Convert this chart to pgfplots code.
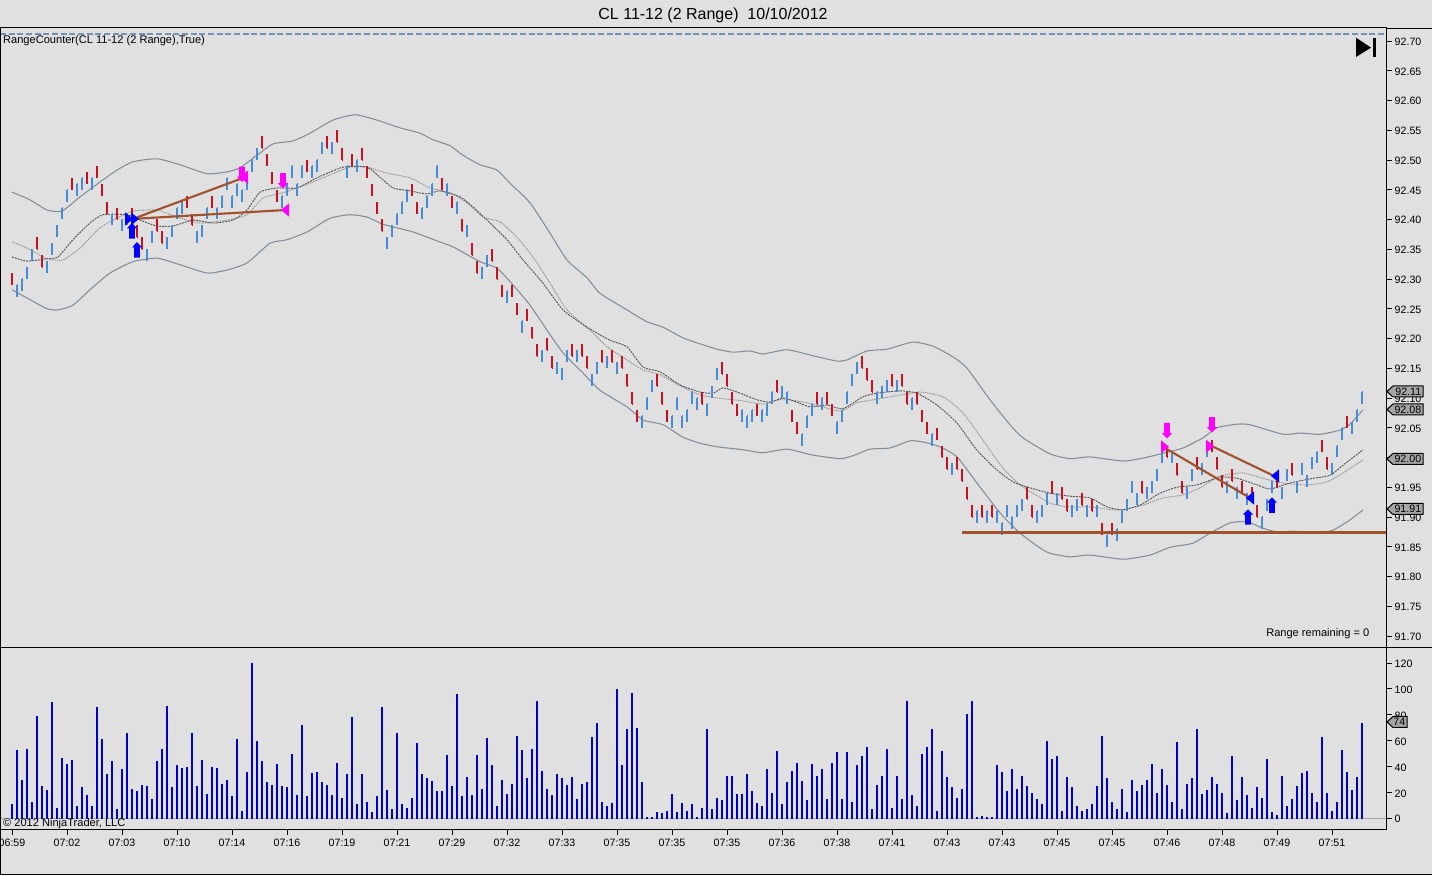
\documentclass[border=0pt]{standalone}
\usepackage{fontspec}
\setmainfont{Liberation Sans}
\usepackage{pgfplots}
\pgfplotsset{compat=1.18}
\definecolor{bg}{RGB}{224,224,224}
\definecolor{barred}{RGB}{200,16,32}
\definecolor{barblue}{RGB}{70,140,215}
\definecolor{volblue}{RGB}{0,0,205}
\definecolor{band}{RGB}{130,142,154}
\definecolor{madark}{RGB}{85,85,85}
\definecolor{malight}{RGB}{150,150,150}
\definecolor{sienna}{RGB}{160,82,45}
\definecolor{topline}{RGB}{110,145,190}
\definecolor{flagfill}{RGB}{165,165,165}
\definecolor{puremag}{RGB}{255,0,255}
\definecolor{pureblue}{RGB}{0,0,255}
\pgfdeclareplotmark{arrup}{\pgfpathmoveto{\pgfqpoint{-2.1pt}{-5.8pt}}\pgfpathlineto{\pgfqpoint{2.1pt}{-5.8pt}}\pgfpathlineto{\pgfqpoint{2.1pt}{1.8pt}}\pgfpathlineto{\pgfqpoint{3.8pt}{1.8pt}}\pgfpathlineto{\pgfqpoint{0pt}{5.8pt}}\pgfpathlineto{\pgfqpoint{-3.8pt}{1.8pt}}\pgfpathlineto{\pgfqpoint{-2.1pt}{1.8pt}}\pgfpathclose\pgfusepathqfill}
\pgfdeclareplotmark{arrdown}{\pgfpathmoveto{\pgfqpoint{-2.1pt}{5.8pt}}\pgfpathlineto{\pgfqpoint{2.1pt}{5.8pt}}\pgfpathlineto{\pgfqpoint{2.1pt}{-1.8pt}}\pgfpathlineto{\pgfqpoint{3.8pt}{-1.8pt}}\pgfpathlineto{\pgfqpoint{0pt}{-5.8pt}}\pgfpathlineto{\pgfqpoint{-3.8pt}{-1.8pt}}\pgfpathlineto{\pgfqpoint{-2.1pt}{-1.8pt}}\pgfpathclose\pgfusepathqfill}
\pgfdeclareplotmark{triR}{\pgfpathmoveto{\pgfqpoint{-3pt}{-5pt}}\pgfpathlineto{\pgfqpoint{3pt}{0pt}}\pgfpathlineto{\pgfqpoint{-3pt}{5pt}}\pgfpathclose\pgfusepathqfill}
\pgfdeclareplotmark{triL}{\pgfpathmoveto{\pgfqpoint{3pt}{-5pt}}\pgfpathlineto{\pgfqpoint{-3pt}{0pt}}\pgfpathlineto{\pgfqpoint{3pt}{5pt}}\pgfpathclose\pgfusepathqfill}
\newcommand{\flagtag}[3]{\path[fill=flagfill,draw=black,line width=0.75pt] (1387*0.75pt,{(875-#1)*0.75pt}) -- (1393*0.75pt,{(875-#1+5.5)*0.75pt}) -- (#2*0.75pt,{(875-#1+5.5)*0.75pt}) -- (#2*0.75pt,{(875-#1-5.5)*0.75pt}) -- (1393*0.75pt,{(875-#1-5.5)*0.75pt}) -- cycle;
\node[font=\fontsize{8pt}{9pt}\selectfont,inner sep=0pt,anchor=east] at ({(#2-1.5)*0.75pt},{(875-#1)*0.75pt}) {#3};}
\begin{document}
\begin{tikzpicture}[x=1pt,y=1pt]
\path[use as bounding box,fill=bg] (0,0) rectangle (1074pt,656.25pt);
\begin{axis}[
  at={(0pt,171pt)},anchor=south west,scale only axis,
  width=1039.5pt,height=465pt,
  xmin=0,xmax=1386,ymin=91.6815,ymax=92.7235,
  xtick=\empty,
  ytick={91.70,91.75,91.80,91.85,91.90,91.95,92.00,92.05,92.10,92.15,92.20,92.25,92.30,92.35,92.40,92.45,92.50,92.55,92.60,92.65,92.70},
  yticklabel pos=right,tick align=outside,major tick length=4.5pt,
  y tick style={black,line width=0.6pt},
  ytick pos=right,
  y tick label style={font=\fontsize{8pt}{9pt}\selectfont,/pgf/number format/fixed,/pgf/number format/fixed zerofill,/pgf/number format/precision=2,/pgf/number format/assume math mode=true,xshift=-1.5pt,yshift=-0.6pt},
  scaled y ticks=false,
  axis line style={black,line width=0.7pt},
  clip=false,
  axis background/.style={fill=bg},
]
% top dashed line
\addplot[topline,line width=1.3pt,dash pattern=on 4.5pt off 2pt] coordinates {(0,92.712)(1386,92.712)};
% bands
\addplot[band,line width=0.8pt,smooth,tension=0.35] coordinates {(12,92.446)(30,92.433)(47,92.416)(62,92.414)(80,92.438)(100,92.463)(117,92.483)(133,92.497)(157,92.502)(180,92.492)(207,92.477)(227,92.480)(240,92.487)(257,92.508)(273,92.527)(293,92.532)(310,92.545)(333,92.567)(355,92.576)(377,92.567)(400,92.554)(420,92.545)(433,92.534)(450,92.524)(463,92.508)(480,92.492)(497,92.483)(510,92.461)(530,92.428)(550,92.377)(567,92.332)(587,92.302)(600,92.276)(627,92.248)(647,92.228)(663,92.219)(683,92.201)(700,92.191)(717,92.182)(733,92.177)(750,92.179)(763,92.174)(787,92.181)(813,92.171)(837,92.162)(847,92.164)(867,92.179)(887,92.182)(913,92.194)(933,92.187)(953,92.169)(967,92.150)(990,92.097)(1010,92.055)(1023,92.033)(1050,92.006)(1070,91.998)(1090,92.001)(1123,91.994)(1143,91.999)(1163,92.007)(1183,92.016)(1203,92.033)(1217,92.050)(1237,92.056)(1250,92.055)(1283,92.039)(1300,92.041)(1320,92.039)(1340,92.046)(1350,92.056)(1363,92.080)};
\addplot[band,line width=0.8pt,smooth,tension=0.35] coordinates {(12,92.282)(27,92.268)(47,92.250)(58,92.248)(73,92.256)(90,92.282)(110,92.310)(133,92.329)(157,92.335)(180,92.324)(207,92.310)(227,92.315)(247,92.327)(270,92.360)(287,92.366)(307,92.379)(330,92.402)(350,92.408)(367,92.404)(383,92.392)(413,92.379)(437,92.364)(453,92.354)(480,92.329)(497,92.318)(513,92.290)(530,92.256)(547,92.214)(563,92.176)(583,92.142)(600,92.113)(627,92.085)(643,92.063)(663,92.055)(683,92.034)(700,92.024)(717,92.018)(743,92.013)(763,92.008)(787,92.014)(813,92.004)(840,91.998)(853,92.003)(870,92.014)(890,92.016)(910,92.028)(923,92.026)(940,92.018)(957,92.001)(977,91.957)(1000,91.907)(1020,91.873)(1040,91.848)(1050,91.839)(1070,91.833)(1090,91.836)(1123,91.829)(1150,91.836)(1170,91.849)(1193,91.856)(1210,91.873)(1230,91.890)(1247,91.892)(1263,91.881)(1277,91.875)(1293,91.876)(1317,91.873)(1333,91.878)(1350,91.895)(1363,91.912)};
% light MA
\addplot[malight,line width=0.7pt,dash pattern=on 1pt off 0.6pt,smooth,tension=0.35] coordinates {(12,92.362)(27,92.352)(47,92.334)(63,92.332)(80,92.352)(100,92.386)(117,92.402)(133,92.414)(157,92.416)(177,92.404)(200,92.394)(227,92.399)(247,92.408)(263,92.436)(283,92.445)(310,92.461)(337,92.480)(350,92.488)(367,92.488)(387,92.478)(410,92.470)(430,92.453)(450,92.445)(467,92.428)(483,92.404)(500,92.396)(517,92.370)(533,92.337)(550,92.293)(567,92.248)(590,92.214)(607,92.186)(627,92.164)(643,92.147)(660,92.139)(683,92.118)(700,92.105)(717,92.100)(743,92.095)(763,92.090)(783,92.098)(807,92.092)(840,92.078)(857,92.092)(877,92.098)(900,92.105)(920,92.110)(943,92.102)(963,92.075)(983,92.029)(1003,91.982)(1020,91.954)(1040,91.933)(1050,91.923)(1067,91.917)(1090,91.917)(1107,91.913)(1122,91.912)(1143,91.920)(1163,91.932)(1183,91.937)(1200,91.949)(1220,91.969)(1243,91.974)(1263,91.965)(1283,91.957)(1307,91.954)(1327,91.959)(1343,91.974)(1363,91.996)};
% dark MA
\addplot[madark,line width=0.7pt,dash pattern=on 1.5pt off 0.7pt,smooth,tension=0.35] coordinates {(12,92.337)(27,92.330)(47,92.334)(58,92.337)(73,92.366)(90,92.394)(103,92.408)(127,92.408)(140,92.399)(157,92.389)(173,92.389)(193,92.399)(213,92.394)(233,92.399)(247,92.416)(260,92.446)(277,92.453)(297,92.453)(317,92.470)(343,92.488)(367,92.488)(380,92.471)(393,92.453)(410,92.448)(427,92.443)(440,92.448)(460,92.438)(473,92.421)(487,92.399)(507,92.366)(523,92.332)(543,92.293)(563,92.248)(587,92.219)(610,92.197)(627,92.186)(643,92.152)(660,92.144)(680,92.122)(700,92.110)(713,92.108)(723,92.117)(737,92.110)(757,92.097)(770,92.093)(783,92.100)(797,92.093)(810,92.085)(827,92.088)(843,92.082)(863,92.102)(877,92.108)(900,92.112)(917,92.108)(937,92.088)(957,92.058)(977,92.012)(997,91.979)(1013,91.959)(1030,91.949)(1050,91.940)(1070,91.935)(1090,91.932)(1107,91.917)(1122,91.912)(1140,91.920)(1160,91.940)(1177,91.950)(1197,91.954)(1220,91.967)(1237,91.965)(1257,91.954)(1270,91.947)(1290,91.957)(1313,91.965)(1330,91.970)(1343,91.987)(1363,92.013)};
% red bars: low, 0.02 range, close tick at low
\addplot[draw=none,forget plot,error bars/.cd,y dir=plus,y fixed=0.02,x dir=plus,x fixed=1.3,error mark=none,error bar style={barred,line width=0.85pt}] coordinates {
(12,92.29)(37,92.35)(42,92.32)(72,92.45)(87,92.46)(97,92.47)(102,92.44)(107,92.41)(117,92.40)(132,92.40)(137,92.37)(142,92.35)(157,92.38)(162,92.36)(187,92.42)(192,92.39)(212,92.42)(262,92.52)(267,92.49)(272,92.46)(277,92.43)(307,92.48)(327,92.52)(337,92.53)(342,92.50)(352,92.49)(362,92.50)(367,92.47)(372,92.44)(377,92.41)(382,92.38)(412,92.44)(417,92.41)(442,92.45)(452,92.42)(462,92.38)(472,92.34)(477,92.31)(492,92.33)(497,92.30)(502,92.27)(512,92.27)(517,92.24)(527,92.23)(532,92.20)(537,92.17)(547,92.18)(552,92.15)(572,92.17)(582,92.17)(587,92.15)(602,92.16)(612,92.16)(622,92.15)(627,92.12)(632,92.09)(637,92.06)(657,92.12)(662,92.09)(667,92.06)(702,92.09)(722,92.14)(727,92.12)(732,92.09)(737,92.07)(757,92.07)(777,92.11)(792,92.06)(797,92.04)(817,92.09)(827,92.09)(832,92.07)(862,92.15)(867,92.13)(872,92.11)(892,92.12)(902,92.12)(907,92.09)(917,92.09)(922,92.06)(927,92.04)(937,92.03)(942,92.00)(947,91.98)(957,91.98)(962,91.96)(967,91.93)(972,91.90)(982,91.90)(992,91.90)(1027,91.93)(1032,91.90)(1052,91.94)(1062,91.93)(1067,91.91)(1082,91.92)(1092,91.91)(1102,91.87)(1112,91.87)(1142,91.94)(1167,92.00)(1177,91.97)(1182,91.94)(1197,91.98)(1212,92.01)(1217,91.98)(1222,91.95)(1232,91.96)(1242,91.94)(1252,91.93)(1257,91.90)(1277,91.95)(1292,91.97)(1322,92.01)(1327,91.98)(1347,92.05)};
% blue bars: high, 0.02 range, close tick at high
\addplot[draw=none,forget plot,error bars/.cd,y dir=minus,y fixed=0.02,x dir=plus,x fixed=1.3,error mark=none,error bar style={barblue,line width=0.85pt}] coordinates {
(17,92.29)(22,92.30)(27,92.32)(32,92.35)(47,92.33)(52,92.36)(57,92.39)(62,92.42)(67,92.45)(77,92.46)(82,92.47)(92,92.47)(112,92.41)(122,92.40)(127,92.41)(147,92.35)(152,92.38)(167,92.37)(172,92.39)(177,92.42)(182,92.43)(197,92.38)(202,92.39)(207,92.42)(217,92.42)(222,92.44)(227,92.47)(232,92.44)(237,92.46)(242,92.45)(247,92.47)(252,92.50)(257,92.52)(282,92.44)(287,92.46)(292,92.49)(297,92.46)(302,92.49)(312,92.49)(317,92.50)(322,92.53)(332,92.53)(347,92.49)(357,92.50)(387,92.37)(392,92.39)(397,92.41)(402,92.43)(407,92.45)(422,92.42)(427,92.44)(432,92.46)(437,92.49)(447,92.46)(457,92.43)(467,92.39)(482,92.32)(487,92.34)(507,92.28)(522,92.23)(542,92.18)(557,92.16)(562,92.15)(567,92.18)(577,92.18)(592,92.14)(597,92.16)(607,92.17)(617,92.16)(642,92.07)(647,92.10)(652,92.13)(672,92.07)(677,92.10)(682,92.07)(687,92.08)(692,92.11)(697,92.10)(707,92.09)(712,92.12)(717,92.15)(742,92.08)(747,92.07)(752,92.08)(762,92.08)(767,92.09)(772,92.11)(782,92.12)(787,92.11)(802,92.04)(807,92.07)(812,92.09)(822,92.10)(837,92.06)(842,92.08)(847,92.11)(852,92.14)(857,92.16)(877,92.11)(882,92.12)(887,92.13)(897,92.13)(912,92.10)(932,92.04)(952,91.99)(977,91.91)(987,91.91)(997,91.91)(1002,91.89)(1007,91.92)(1012,91.90)(1017,91.92)(1022,91.93)(1037,91.91)(1042,91.92)(1047,91.94)(1057,91.94)(1072,91.92)(1077,91.93)(1087,91.92)(1097,91.92)(1107,91.87)(1117,91.88)(1122,91.91)(1127,91.93)(1132,91.96)(1137,91.94)(1147,91.95)(1152,91.96)(1157,91.98)(1162,92.01)(1172,92.01)(1187,91.95)(1192,91.98)(1202,91.99)(1207,92.02)(1227,91.96)(1237,91.95)(1247,91.94)(1262,91.90)(1267,91.93)(1272,91.96)(1282,91.95)(1287,91.98)(1297,91.96)(1302,91.99)(1307,91.97)(1312,92.00)(1317,92.01)(1332,91.99)(1337,92.02)(1342,92.05)(1352,92.06)(1357,92.08)(1362,92.11)};
% drawing-tool lines
\addplot[sienna,line width=1.6pt] coordinates {(133,92.401)(245,92.471)};
\addplot[sienna,line width=1.6pt] coordinates {(133,92.401)(286,92.416)};
\addplot[sienna,line width=1.6pt] coordinates {(962,91.874)(1386,91.874)};
\addplot[sienna,line width=1.6pt] coordinates {(1165,92.016)(1250,91.932)};
\addplot[sienna,line width=1.6pt] coordinates {(1212,92.019)(1274,91.969)};
% markers
\addplot[only marks,mark=arrup,pureblue,mark options={fill=pureblue,draw=none}] coordinates {(132,92.381)(137,92.349)(1248,91.900)(1272,91.920)};
\addplot[only marks,mark=arrdown,puremag,mark options={fill=puremag,draw=none}] coordinates {(242,92.476)(283,92.465)(1167,92.045)(1212,92.055)};
\addplot[only marks,mark=triR,pureblue,mark options={fill=pureblue,draw=none}] coordinates {(129,92.401)(135,92.401)};
\addplot[only marks,mark=triL,puremag,mark options={fill=puremag,draw=none}] coordinates {(244,92.471)(285,92.416)};
\addplot[only marks,mark=triR,puremag,mark options={fill=puremag,draw=none}] coordinates {(1165,92.018)(1210,92.019)};
\addplot[only marks,mark=triL,pureblue,mark options={fill=pureblue,draw=none}] coordinates {(1250,91.932)(1275,91.969)};
\end{axis}
\begin{axis}[
  at={(0pt,34.5pt)},anchor=south west,scale only axis,
  width=1039.5pt,height=136.5pt,
  xmin=0,xmax=1386,ymin=-8.1,ymax=132.3,
  xtick={12,67,122,177,232,287,342,397,452,507,562,617,672,727,782,837,892,947,1002,1057,1112,1167,1222,1277,1332},
  xticklabels={06:59,07:02,07:03,07:10,07:14,07:16,07:19,07:21,07:29,07:32,07:33,07:35,07:35,07:35,07:36,07:38,07:41,07:43,07:43,07:45,07:45,07:46,07:48,07:49,07:51},
  ytick={0,20,40,60,80,100,120},
  xtick pos=bottom,ytick pos=right,yticklabel pos=right,
  tick align=outside,major tick length=4.5pt,
  x tick style={black,line width=0.6pt},
  y tick style={black,line width=0.6pt},
  x tick label style={font=\fontsize{8pt}{9pt}\selectfont,yshift=0.3pt},
  y tick label style={font=\fontsize{8pt}{9pt}\selectfont,/pgf/number format/assume math mode=true,xshift=-1.5pt,yshift=-0.6pt},
  axis line style={black,line width=0.7pt},
  clip=false,
]
\addplot[gray!70,line width=0.6pt] coordinates {(0,0)(1386,0)};
\addplot[ycomb,volblue,line width=1.6pt] coordinates {
(12,11)(17,53)(22,30)(27,54)(32,13)(37,79)(42,25)(47,22)(52,90)(57,8)(62,47)(67,42)(72,45)(77,10)(82,24)(87,18)(92,10)(97,86)(102,61)(107,34)(112,44)(117,7)(122,38)(127,66)(132,23)(137,21)(142,26)(147,25)(152,15)(157,44)(162,54)(167,87)(172,24)(177,41)(182,39)(187,40)(192,66)(197,25)(202,45)(207,19)(212,40)(217,39)(222,27)(227,30)(232,17)(237,61)(242,6)(247,36)(252,120)(257,60)(262,44)(267,28)(272,26)(277,42)(282,25)(287,24)(292,50)(297,18)(302,72)(307,17)(312,35)(317,36)(322,28)(327,26)(332,18)(337,43)(342,16)(347,34)(352,78)(357,11)(362,34)(367,13)(372,5)(377,17)(382,86)(387,22)(392,7)(397,66)(402,11)(407,8)(412,16)(417,58)(422,34)(427,31)(432,29)(437,21)(442,21)(447,49)(452,25)(457,96)(462,17)(467,32)(472,18)(477,49)
(482,23)(487,62)(492,41)(497,10)(502,30)(507,19)(512,27)(517,64)(522,53)(527,31)(532,54)(537,91)(542,37)(547,23)(552,18)(557,34)(562,31)(567,26)(572,32)(577,15)(582,27)(587,28)(592,63)(597,74)(602,13)(607,10)(612,12)(617,100)(622,41)(627,69)(632,97)(637,70)(642,28)(647,1)(652,1)(657,5)(662,4)(667,6)(672,19)(677,5)(682,12)(687,6)(692,11)(697,1)(702,8)(707,69)(712,7)(717,16)(722,14)(727,33)(732,33)(737,19)(742,19)(747,34)(752,21)(757,12)(762,10)(767,38)(772,20)(777,52)(782,11)(787,28)(792,37)(797,43)(802,29)(807,14)(812,42)(817,33)(822,38)(827,15)(832,43)(837,51)(842,15)(847,51)(852,13)(857,41)(862,48)(867,55)(872,7)(877,26)(882,33)(887,54)(892,8)(897,33)(902,15)(907,91)(912,18)(917,10)(922,50)(927,55)(932,69)(937,6)(942,52)(947,32)(952,24)(957,16)
(962,23)(967,81)(972,91)(977,1)(982,2)(987,1)(992,1)(997,41)(1002,36)(1007,21)(1012,38)(1017,23)(1022,33)(1027,25)(1032,20)(1037,15)(1042,11)(1047,60)(1052,46)(1057,48)(1062,6)(1067,32)(1072,24)(1077,10)(1082,6)(1087,7)(1092,11)(1097,25)(1102,64)(1107,31)(1112,13)(1117,7)(1122,23)(1127,5)(1132,30)(1137,21)(1142,26)(1147,30)(1152,42)(1157,20)(1162,38)(1167,26)(1172,13)(1177,59)(1182,7)(1187,27)(1192,31)(1197,69)(1202,19)(1207,22)(1212,32)(1217,27)(1222,20)(1227,4)(1232,48)(1237,14)(1242,32)(1247,18)(1252,8)(1257,24)(1262,16)(1267,46)(1272,5)(1277,3)(1282,33)(1287,10)(1292,15)(1297,25)(1302,35)(1307,37)(1312,20)(1317,13)(1322,63)(1327,20)(1332,6)(1337,13)(1342,53)(1347,36)(1352,22)(1357,32)(1362,74)};
\end{axis}
% frame lines
\draw[black,line width=0.7pt] (1039.5pt,635.25pt) -- (1074pt,635.25pt);
\draw[black,line width=0.7pt] (1039.5pt,171pt) -- (1074pt,171pt);
\draw[black,line width=0.75pt] (0.3pt,0.3pt) -- (1074pt,0.3pt);
\draw[black,line width=0.75pt] (0.3pt,0pt) -- (0.3pt,635.25pt);
% texts
\node[font=\fontsize{12pt}{13pt}\selectfont,anchor=center] at (534.75pt,645pt) {CL 11-12 (2 Range)\ \ 10/10/2012};
\node[font=\fontsize{8.3pt}{9pt}\selectfont,anchor=west,inner sep=0pt] at (2.2pt,626pt) {RangeCounter(CL 11-12 (2 Range),True)};
\node[font=\fontsize{8.3pt}{9pt}\selectfont,anchor=west,inner sep=0pt] at (949.5pt,181.2pt) {Range remaining = 0};
\node[font=\fontsize{8.3pt}{9pt}\selectfont,anchor=west,inner sep=0pt] at (2.2pt,38.3pt) {© 2012 NinjaTrader, LLC};
% end-of-chart icon
\fill[black] (1017pt,628pt) -- (1028.25pt,620.5pt) -- (1017pt,613.5pt) -- cycle;
\fill[black] (1029.75pt,613.5pt) rectangle (1032pt,628pt);
% value flags
\flagtag{391.5}{1423}{92.11}
\flagtag{409.5}{1423}{92.08}
\flagtag{459}{1423}{92.00}
\flagtag{509}{1423}{91.91}
\flagtag{722}{1407}{74}
\end{tikzpicture}
\end{document}
